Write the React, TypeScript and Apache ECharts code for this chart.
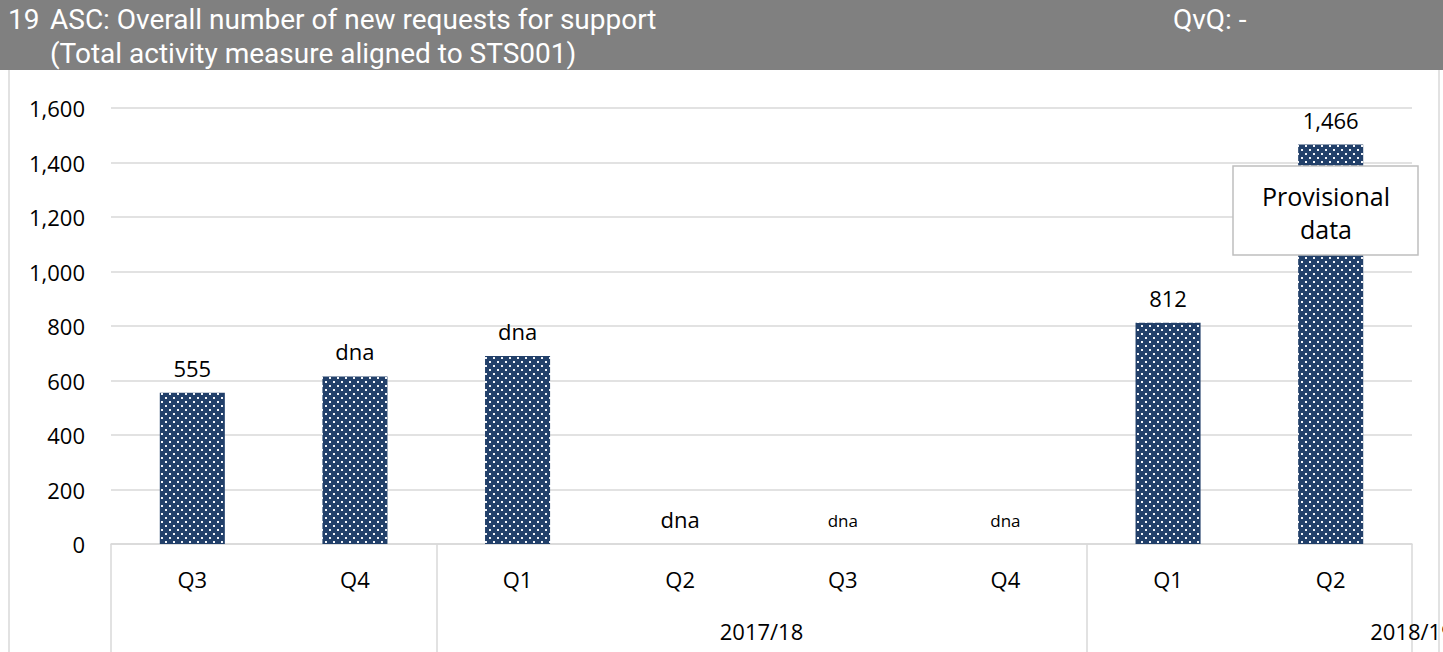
import React, { useEffect, useRef } from "react";
import * as echarts from "echarts";

const categories = ["Q3", "Q4", "Q1", "Q2", "Q3", "Q4", "Q1", "Q2"];
const values = [555, 615, 690, 0, 0, 0, 812, 1466];
const valueLabels = ["555", "dna", "dna", "dna", "dna", "dna", "812", "1,466"];
const smallLabelIndexes = [4, 5];
const groupBoundaries = [0, 2, 6];
const groupLabels = ["2017/18", "2018/19"];
const groupLabelPositions = [4, 8];
const yMin = 0;
const yMax = 1600;
const yInterval = 200;
const titleNumber = "19";
const titleLine1 = "ASC: Overall number of new requests for support";
const titleLine2 = "(Total activity measure aligned to STS001)";
const qvqText = "QvQ: -";
const noteText = "Provisional\ndata";

const FONT = "Open Sans";
const HEADER_FONT = "Roboto";
const NAVY = "#22406a";

function makePattern(): HTMLCanvasElement {
  const c = document.createElement("canvas");
  c.width = 8;
  c.height = 8;
  const ctx = c.getContext("2d")!;
  ctx.fillStyle = NAVY;
  ctx.fillRect(0, 0, 8, 8);
  ctx.fillStyle = "#f4f6fa";
  ctx.fillRect(1, 1, 2, 2);
  ctx.fillRect(5, 5, 2, 2);
  return c;
}

export default function App() {
  const ref = useRef<HTMLDivElement>(null);
  useEffect(() => {
    if (!ref.current) return;
    const chart = echarts.init(ref.current, undefined, { renderer: "svg" });
    const pattern = makePattern();
    const headerStyle = (text: string) => ({
      text,
      fill: "#fff",
      font: `28px "${HEADER_FONT}"`,
      lineHeight: 29,
      textVerticalAlign: "middle",
    });
    const option: any = {
      animation: false,
      backgroundColor: "#ffffff",
      grid: {
        left: 111,
        right: 31,
        top: 108,
        bottom: 108,
        containLabel: false,
        outerBoundsMode: "none",
      },
      xAxis: [
        {
          type: "category",
          data: categories,
          boundaryGap: true,
          axisLine: { show: true, lineStyle: { color: "#d9d9d9", width: 1.5 } },
          axisTick: {
            show: true,
            length: 110,
            inside: false,
            interval: (i: number) => groupBoundaries.includes(i),
            lineStyle: { color: "#d9d9d9", width: 1.5 },
          },
          axisLabel: {
            color: "#000",
            fontFamily: FONT,
            fontSize: 22,
            margin: 24,
            interval: 0,
          },
        },
        {
          type: "value",
          min: 0,
          max: categories.length,
          position: "bottom",
          axisLine: { show: false },
          axisTick: { show: false },
          splitLine: { show: false },
          axisLabel: {
            show: true,
            showMaxLabel: true,
            customValues: groupLabelPositions,
            formatter: (v: number) => {
              const idx = groupLabelPositions.indexOf(v);
              return idx >= 0 ? groupLabels[idx] : "";
            },
            color: "#000",
            fontFamily: FONT,
            fontSize: 22,
            margin: 76,
          },
        },
      ],
      yAxis: {
        type: "value",
        min: yMin,
        max: yMax,
        interval: yInterval,
        axisLine: { show: false },
        axisTick: { show: false },
        splitLine: { lineStyle: { color: "#d9d9d9", width: 1.5 } },
        axisLabel: {
          color: "#000",
          fontFamily: FONT,
          fontSize: 22,
          margin: 26,
          formatter: (v: number) => v.toLocaleString("en-US"),
        },
      },
      series: [
        {
          type: "bar",
          xAxisIndex: 0,
          barWidth: "40%",
          data: values.map((v, i) => ({
            value: v,
            label: smallLabelIndexes.includes(i) ? { fontSize: 17, distance: 15 } : undefined,
          })),
          itemStyle: { color: { image: pattern, repeat: "repeat" } },
          label: {
            show: true,
            position: "top",
            distance: 14,
            color: "#000",
            fontFamily: FONT,
            fontSize: 22,
            formatter: (p: any) => valueLabels[p.dataIndex],
          },
        },
      ],
      graphic: [
        {
          type: "rect",
          silent: true,
          shape: { x: 9, y: 60, width: 1430, height: 620 },
          style: { fill: "none", stroke: "#d9d9d9", lineWidth: 1.5 },
          z: 1,
        },
        {
          type: "rect",
          silent: true,
          shape: { x: 0, y: 0, width: 1443, height: 70 },
          style: { fill: "#808080" },
          z: 10,
        },
        { type: "text", x: 8, y: 19, style: headerStyle(titleNumber), z: 11 },
        { type: "text", x: 50, y: 19, style: headerStyle(titleLine1), z: 11 },
        { type: "text", x: 50, y: 53, style: headerStyle(titleLine2), z: 11 },
        { type: "text", x: 1173, y: 19, style: headerStyle(qvqText), z: 11 },
        {
          type: "rect",
          shape: { x: 1233, y: 166, width: 185, height: 89 },
          style: { fill: "#fff", stroke: "#bfbfbf", lineWidth: 1.5 },
          z: 20,
        },
        {
          type: "text",
          x: 1326,
          y: 212,
          style: {
            text: noteText,
            fill: "#000",
            font: `25px "${FONT}"`,
            align: "center",
            verticalAlign: "middle",
            lineHeight: 33,
          },
          z: 21,
        },
      ],
    };
    chart.setOption(option);
    return () => chart.dispose();
  }, []);
  return (
    <div
      ref={ref}
      style={{ position: "fixed", left: 0, top: 0, width: 1443, height: 652, background: "#fff" }}
    />
  );
}
